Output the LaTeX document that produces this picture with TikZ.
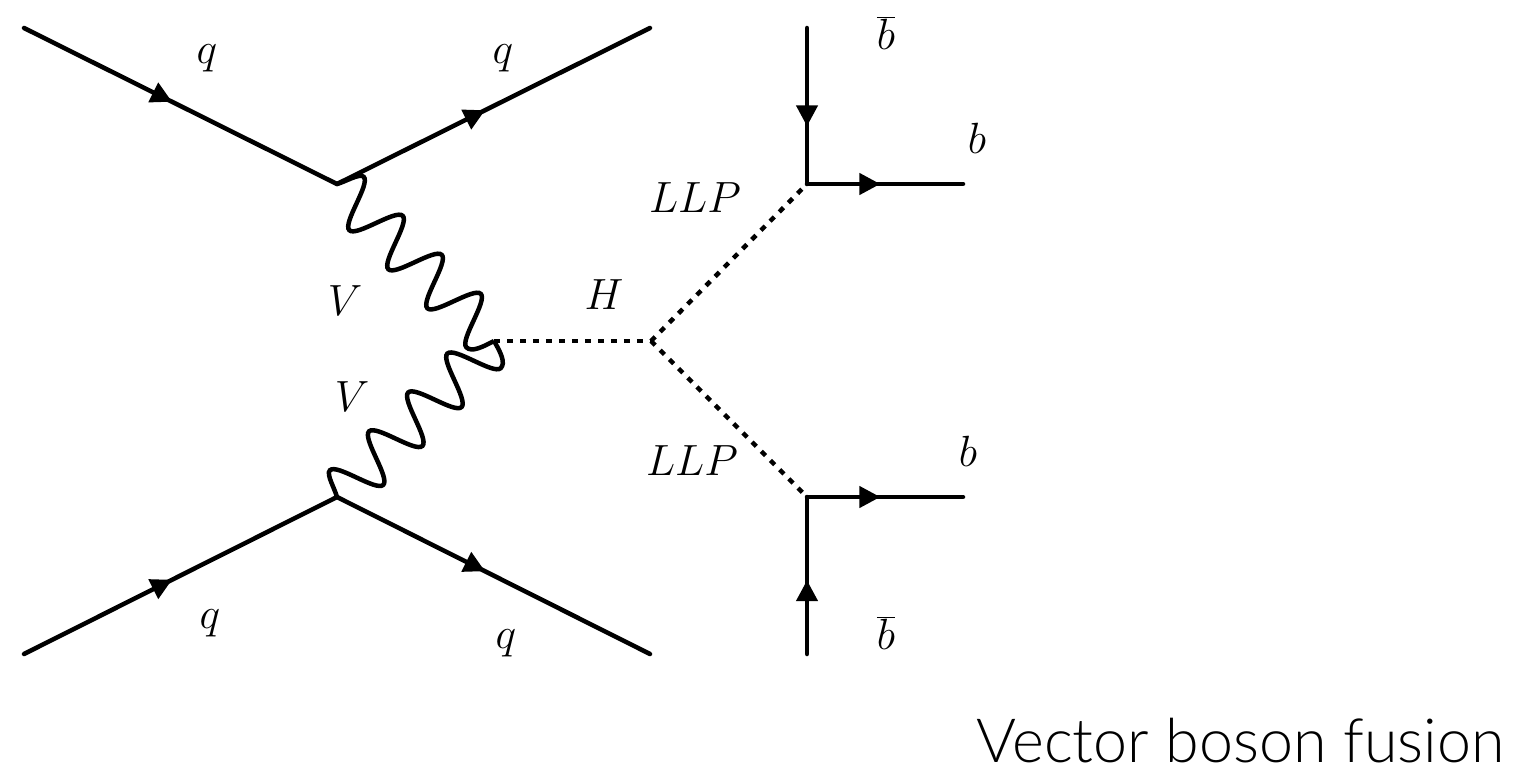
\documentclass[tikz,border=0pt]{standalone}
\usepackage{fontspec}
\usepackage{tikz}
\usetikzlibrary{arrows.meta,decorations.markings}
\newfontfamily\titlefont[UprightFont=* Light]{Lato}
% sine wave that starts and stops on the path
\pgfdeclaredecoration{vwave}{rise}{
  \state{rise}[width=+.25\pgfdecorationsegmentlength, next state=fall]{
    \pgfpathcurveto{\pgfpoint{.08\pgfdecorationsegmentlength}{.32\pgfdecorationsegmentamplitude}}
      {\pgfpoint{.15\pgfdecorationsegmentlength}{\pgfdecorationsegmentamplitude}}
      {\pgfpoint{.25\pgfdecorationsegmentlength}{\pgfdecorationsegmentamplitude}}
  }
  \state{fall}[width=+.5\pgfdecorationsegmentlength, next state=climb]{
    \pgfpathcurveto{\pgfpoint{.18\pgfdecorationsegmentlength}{\pgfdecorationsegmentamplitude}}
      {\pgfpoint{.32\pgfdecorationsegmentlength}{-\pgfdecorationsegmentamplitude}}
      {\pgfpoint{.5\pgfdecorationsegmentlength}{-\pgfdecorationsegmentamplitude}}
  }
  \state{climb}[width=+.5\pgfdecorationsegmentlength, next state=fall]{
    \pgfpathcurveto{\pgfpoint{.18\pgfdecorationsegmentlength}{-\pgfdecorationsegmentamplitude}}
      {\pgfpoint{.32\pgfdecorationsegmentlength}{\pgfdecorationsegmentamplitude}}
      {\pgfpoint{.5\pgfdecorationsegmentlength}{\pgfdecorationsegmentamplitude}}
  }
  \state{final}{
    \pgfpathcurveto{\pgfpoint{.13\pgfdecorationsegmentlength}{-\pgfdecorationsegmentamplitude}}
      {\pgfpoint{.2\pgfdecorationsegmentlength}{-.55\pgfdecorationsegmentamplitude}}
      {\pgfpointdecoratedpathlast}
  }
}

\begin{document}
\begin{tikzpicture}[x=0.02cm, y=-0.02cm,
    every node/.style={font=\fontsize{28}{32}\selectfont},
    fermion/.style={line width=0.09cm, line cap=round, postaction={decorate},
      decoration={markings, mark=at position #1 with {\arrow{Triangle[length=0.42cm, width=0.42cm]}}}},
    boson/.style={line width=0.09cm, decorate, decoration={vwave, amplitude=0.48cm, segment length=1.104cm}},
    higgs/.style={line width=0.09cm, dash pattern=on 0.12cm off 0.14cm}]
  \useasboundingbox (0,0) rectangle (1517,767);
  % vertices
  \coordinate (q1in) at (24,28);
  \coordinate (q1out) at (650,28);
  \coordinate (q2in) at (24,654);
  \coordinate (q2out) at (650,654);
  \coordinate (v1) at (337,184);
  \coordinate (v2) at (337,497);
  \coordinate (vh) at (494,341);
  \coordinate (vd) at (651,341);
  \coordinate (vb1) at (807,184);
  \coordinate (vb2) at (807,497);
  \coordinate (b1bar) at (807,28);
  \coordinate (b2bar) at (807,654);
  \coordinate (b1) at (963,184);
  \coordinate (b2) at (963,497);
  % quark lines
  \draw[fermion=0.473] (q1in) -- (v1);
  \draw[fermion=0.473] (v1) -- (q1out);
  \draw[fermion=0.473] (q2in) -- (v2);
  \draw[fermion=0.473] (v2) -- (q2out);
  % bosons
  \draw[boson] (v1) -- (vh);
  \draw[boson] (v2) -- (vh);
  \draw[higgs] (vh) -- (vd);
  \draw[higgs] (vd) -- (vb1);
  \draw[higgs] (vd) -- (vb2);
  % b quarks
  \draw[fermion=0.63] (b1bar) -- (vb1);
  \draw[fermion=0.47] (vb1) -- (b1);
  \draw[fermion=0.47] (b2bar) -- (vb2);
  \draw[fermion=0.47] (vb2) -- (b2);
  % labels
  \node (lq1) at (207,58) {$q$};
  \node (lq2) at (503,58) {$q$};
  \node (lq3) at (210,623) {$q$};
  \node (lq4) at (506,643) {$q$};
  \node (lv1) at (345,301) {$V$};
  \node (lv2) at (352,397) {$V$};
  \node (lh) at (604,295) {$H$};
  \node (llp1) at (695,198) {$LLP$};
  \node (llp2) at (692,461) {$LLP$};
  \node (lb1) at (886,33) {$\overline{b}$};
  \node (lb2) at (977,138) {$b$};
  \node (lb3) at (968,451) {$b$};
  \node (lb4) at (886,633) {$\overline{b}$};
  \node[font=\fontsize{34.7}{40}\titlefont, anchor=base, inner sep=0pt] (title) at (1240.5,762) {Vector boson fusion};
\end{tikzpicture}
\end{document}
